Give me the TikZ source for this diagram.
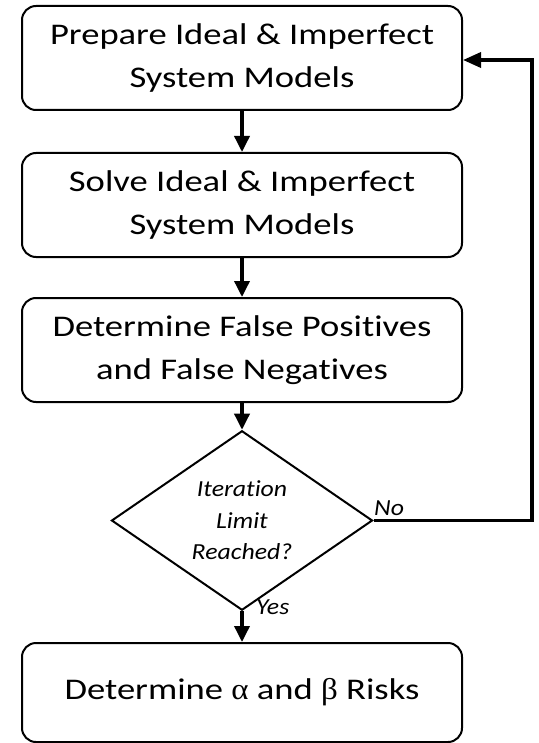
\documentclass[tikz,border=0pt]{standalone}
\usepackage{fontspec}
\setmainfont{Carlito}[Ligatures=NoCommon]
\newfontfamily\boxfont{Carlito}[Ligatures=NoCommon, FakeStretch=1.22]
\newfontfamily\labelfont{Carlito}[Ligatures=NoCommon, FakeStretch=1.12]
\newfontfamily\greekfont{Liberation Serif}[FakeStretch=1.1]
\usetikzlibrary{shapes.geometric,arrows.meta}
\begin{document}
\begin{tikzpicture}[x=1pt,y=-1pt,
  procbox/.style={draw=black, line width=2pt, rounded corners=14pt,
    minimum width=440pt, minimum height=104pt, align=center,
    inner sep=0pt, font=\boxfont\fontsize{30}{43}\selectfont},
  decision/.style={draw=black, line width=2pt, shape=diamond,
    minimum width=261pt, minimum height=155pt, inner sep=0pt,
    align=center, font=\labelfont\fontsize{23}{31.5}\selectfont\itshape},
  flow/.style={line width=3.5pt, -{Triangle[length=16pt,width=15pt]}},
  branch/.style={font=\labelfont\fontsize{23}{28}\selectfont\itshape, inner sep=0pt}]
\useasboundingbox (0,0) rectangle (538,743);

\node[procbox] (prep) at (242,58) {Prepare Ideal \& Imperfect\\System Models};
\node[procbox] (solve) at (242,205) {Solve Ideal \& Imperfect\\System Models};
\node[procbox] (fp) at (242,350) {Determine False Positives\\and False Negatives};
\node[decision] (iter) at (242,520.5) {Iteration\\Limit\\Reached?};
\node[procbox, minimum height=99pt] (risk) at (242,692.5)
  {Determine {\greekfont α} and {\greekfont β} Risks};

\coordinate (loopA) at (532,520.5);
\coordinate (loopB) at (532,60);
\coordinate (loopC) at (prep.east |- loopB);

\draw[flow] (prep) -- (solve);
\draw[flow] (solve) -- (fp);
\draw[flow] (fp) -- (iter);
\draw[flow] (iter) -- (risk);
\draw[flow, line join=miter,
  -{Triangle[length=18pt,width=15pt]}] (iter.east) -- (loopA) -- (loopB) -- (loopC);

\node[branch, anchor=base west] (no) at (374,515) {No};
\node[branch, anchor=base west] (yes) at (256,614) {Yes};
\end{tikzpicture}
\end{document}
